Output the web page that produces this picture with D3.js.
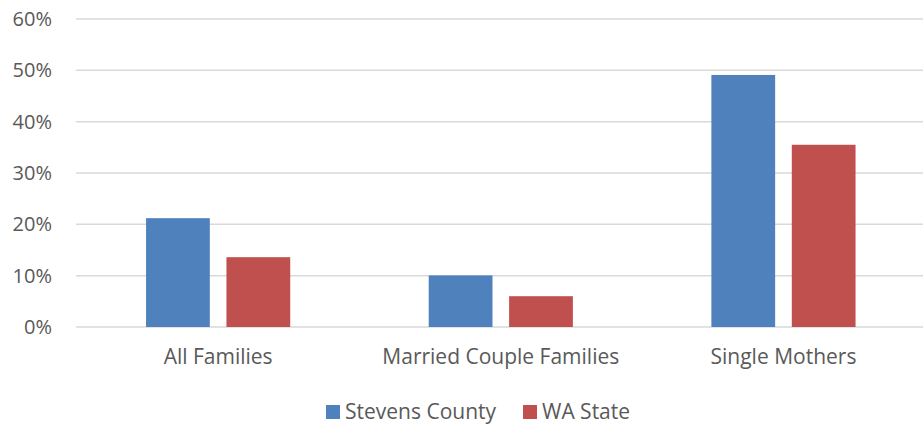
<!DOCTYPE html>
<html>
<head>
<meta charset="utf-8">
<script src="https://cdn.jsdelivr.net/npm/d3@7"></script>
<style>
  html, body { margin: 0; padding: 0; background: #fff; }
  svg { display: block; }
  text { font-family: "Open Sans", sans-serif; fill: #595959; }
</style>
</head>
<body>
<svg id="chart" width="923" height="425"></svg>
<script>
const categories = ["All Families", "Married Couple Families", "Single Mothers"];
const seriesNames = ["Stevens County", "WA State"];
const stevensCounty = [21.2, 10.05, 49.1];
const waState = [13.6, 6.0, 35.5];
const yTicks = [0, 10, 20, 30, 40, 50, 60];
const colors = ["#4f81bd", "#c0504d"];

const seriesValues = [stevensCounty, waState];
const svg = d3.select("#chart");
const plot = { left: 76, right: 923, top: 19, bottom: 327 };

const y = d3.scaleLinear().domain([0, 60]).range([plot.bottom, plot.top]);
const x0 = d3.scaleBand().domain(categories).range([plot.left + 0.8, plot.right + 1.8])
  .paddingInner(0.49).paddingOuter(0.245);
const x1 = d3.scaleBand().domain(seriesNames).range([0, x0.bandwidth()])
  .paddingInner(0.207).paddingOuter(0);

// gridlines
svg.append("g").selectAll("line").data(yTicks).join("line")
  .attr("x1", plot.left).attr("x2", plot.right)
  .attr("y1", d => y(d)).attr("y2", d => y(d))
  .attr("stroke", "#d9d9d9").attr("stroke-width", 1.5);

// y axis labels
const yAxis = d3.axisLeft(y).tickValues(yTicks).tickFormat(d => d + "%").tickSize(0).tickPadding(0);
const yg = svg.append("g").attr("transform", `translate(52,0)`).call(yAxis);
yg.select(".domain").remove();
yg.selectAll("text").attr("font-size", 20).attr("fill", "#595959")
  .style("font-family", '"Open Sans", sans-serif');

// bars
const groups = svg.append("g").selectAll("g").data(categories).join("g")
  .attr("transform", d => `translate(${x0(d)},0)`);
groups.selectAll("rect").data((d, i) => seriesNames.map((s, j) => ({ s, v: seriesValues[j][i], j })))
  .join("rect")
  .attr("x", d => x1(d.s))
  .attr("width", x1.bandwidth())
  .attr("y", d => y(d.v))
  .attr("height", d => y(0) - y(d.v))
  .attr("fill", d => colors[d.j]);

// x axis labels
const xAxis = d3.axisBottom(x0).tickSize(0).tickPadding(0);
const xg = svg.append("g").attr("transform", `translate(0,${plot.bottom + 22})`).call(xAxis);
xg.select(".domain").remove();
xg.selectAll("text").attr("font-size", 21).attr("fill", "#595959")
  .style("font-family", '"Open Sans", sans-serif');

// legend
const legendX = [326, 523];
const lg = svg.append("g").selectAll("g").data(seriesNames).join("g")
  .attr("transform", (d, i) => `translate(${legendX[i]},405)`);
lg.append("rect").attr("width", 14).attr("height", 14).attr("fill", (d, i) => colors[i]);
lg.append("text").attr("x", 19).attr("y", 14).attr("font-size", 21).text(d => d);
</script>
</body>
</html>
